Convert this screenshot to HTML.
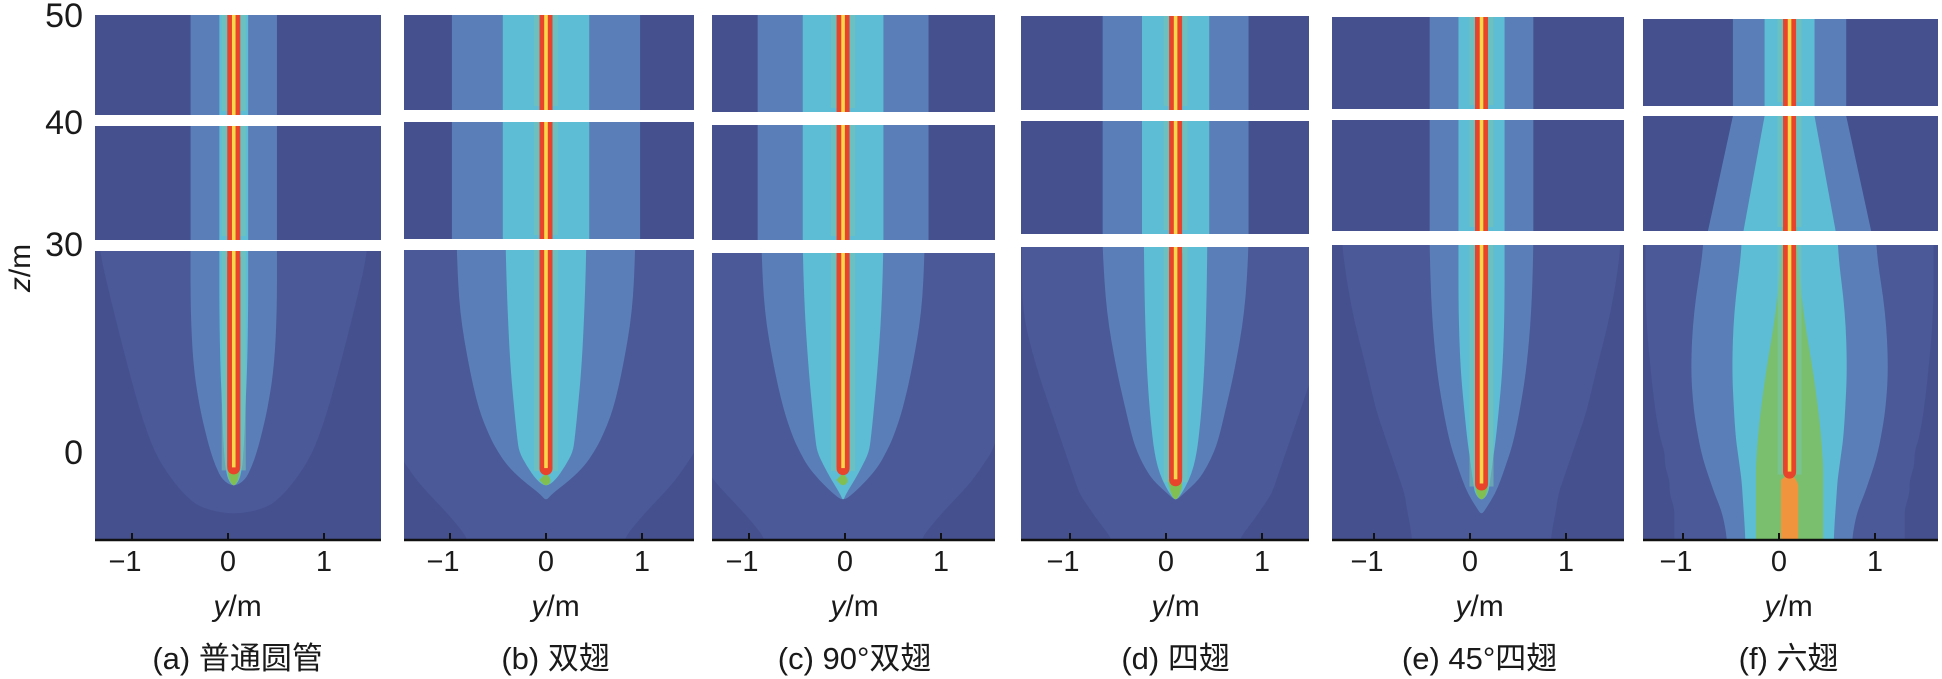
<!DOCTYPE html>
<html><head><meta charset="utf-8">
<style>
html,body{margin:0;padding:0;background:#fff;}
svg{display:block;}
text{font-family:"Liberation Sans","Noto Sans CJK SC",sans-serif;fill:#1a1a1a;}
</style></head>
<body>
<svg id="chart" width="1942" height="679" viewBox="0 0 1942 679" xmlns="http://www.w3.org/2000/svg">
<g id="yaxis"></g>
<g id="panels"></g>
</svg>
<script>
// ---- data ----
const panelLabels = ["(a) 普通圆管","(b) 双翅","(c) 90°双翅","(d) 四翅","(e) 45°四翅","(f) 六翅"];
const xTicks = [-1, 0, 1];
const xTickLabels = ["\u22121","0","1"];
const zTickLabels = ["50","40","30","0"];
const zRows = [28.7, 20, 12, 6, 2, 0, -2, -4, -6, -8, -10, -12.6];
const plumeCenter = [0.06, 0.0, -0.02, 0.1, 0.12, 0.11];
const upperLight = [0.45, 0.98, 0.89, 0.76, 0.54, 0.59];
const upperCyan  = [0.15, 0.45, 0.42, 0.35, 0.24, 0.26];
const midLightBottom = [0.45, 0.98, 0.89, 0.76, 0.54, 0.85];
const midCyanBottom  = [0.15, 0.45, 0.42, 0.35, 0.24, 0.48];
const midGreenBottom = [0, 0, 0, 0, 0, 0.08];
const haloW = [
 [1.4,1.25,1.1,0.98,0.88,0.82,0.74,0.64,0.52,0.35,0,0],
 [1.7,1.7,1.7,1.65,1.6,1.55,1.45,1.35,1.22,1.08,0.95,0.8],
 [1.7,1.7,1.7,1.65,1.6,1.55,1.45,1.35,1.22,1.08,0.95,0.8],
 [1.6,1.6,1.45,1.3,1.2,1.15,1.1,1.05,1.0,0.9,0.8,0.65],
 [1.45,1.35,1.2,1.1,1.0,0.95,0.9,0.85,0.8,0.78,0.75,0.72],
 [1.5,1.5,1.45,1.4,1.35,1.3,1.3,1.25,1.25,1.2,1.2,1.2]];
const lightW = [
 [0.45,0.45,0.42,0.35,0.28,0.24,0.19,0.12,0,0,0,0],
 [0.93,0.9,0.8,0.7,0.58,0.5,0.4,0.25,0.06,0,0,0],
 [0.85,0.82,0.72,0.62,0.52,0.45,0.37,0.25,0.1,0,0,0],
 [0.76,0.72,0.62,0.52,0.45,0.4,0.33,0.24,0.08,0,0,0],
 [0.54,0.52,0.47,0.4,0.34,0.3,0.25,0.2,0.14,0.05,0,0],
 [0.9,1.0,1.03,1.0,0.95,0.92,0.88,0.83,0.78,0.72,0.68,0.65]];
const cyanW = [
 [0.15,0.15,0.14,0.12,0.11,0.1,0.09,0.06,0,0,0,0],
 [0.42,0.4,0.37,0.33,0.3,0.28,0.2,0.1,0,0,0,0],
 [0.42,0.4,0.36,0.32,0.29,0.27,0.2,0.12,0.03,0,0,0],
 [0.33,0.32,0.3,0.27,0.24,0.22,0.19,0.14,0.06,0,0,0],
 [0.24,0.24,0.22,0.18,0.15,0.13,0.11,0.09,0.07,0,0,0],
 [0.5,0.58,0.6,0.58,0.56,0.54,0.52,0.5,0.49,0.48,0.47,0.46]];
const greenW = [
 [0,0,0,0,0,0,0.07,0.05,0,0,0,0],
 [0,0,0,0,0,0,0,0.07,0,0,0,0],
 [0,0,0,0,0,0,0,0.07,0,0,0,0],
 [0,0,0,0,0,0,0,0.08,0.05,0,0,0],
 [0,0,0,0,0,0,0,0.07,0.06,0,0,0],
 [0.08,0.14,0.24,0.3,0.33,0.34,0.35,0.35,0.35,0.35,0.35,0.35]];
const orangeW = [
 [0,0,0,0,0,0,0,0,0,0,0,0],
 [0,0,0,0,0,0,0,0,0,0,0,0],
 [0,0,0,0,0,0,0,0,0,0,0,0],
 [0,0,0,0,0,0,0,0,0,0,0,0],
 [0,0,0,0,0,0,0,0,0,0,0,0],
 [0,0,0,0,0,0,0,0.09,0.09,0.09,0.09,0.09]];
const redTipZ = [-3.2, -3.3, -3.3, -4.9, -5.5, -3.8];

// ---- layout (pixels, not data) ----
const L = [
 {x0:95,  x1:381,  zero:228,  seg:[[15,115],[126,240],[251,540]]},
 {x0:404, x1:694,  zero:546,  seg:[[15,110],[122,239],[250,540]]},
 {x0:712, x1:995,  zero:845,  seg:[[15,112],[125,240],[253,540]]},
 {x0:1021,x1:1309, zero:1166, seg:[[16,110],[121,234],[247,540]]},
 {x0:1332,x1:1624, zero:1470, seg:[[17,109],[120,231],[245,540]]},
 {x0:1643,x1:1938, zero:1779, seg:[[19,106],[116,231],[245,540]]}];
const PPM = 96, Z0PX = 452, ZPPM = 7;
const zTickY = [15, 122, 244, 452];
const C = {bg:"#45508f", halo:"#4b5999", light:"#5a7fb8", cyan:"#5dbdd5", glow:"#79c4ae",
           green:"#82bf52", red:"#e8432b", yellow:"#f6d84a", orange:"#f0953e"};

const NS = "http://www.w3.org/2000/svg";
function mk(tag, attrs, parent){ const e=document.createElementNS(NS,tag); for(const k in attrs) e.setAttribute(k,attrs[k]); parent.appendChild(e); return e; }
const xs = (p,m) => L[p].zero + m*PPM;
const zs = z => Z0PX - z*ZPPM;

const yax = document.getElementById('yaxis');
zTickLabels.forEach((t,i)=>{
  const e = mk('text',{x:83,y:zTickY[i]+12,'text-anchor':'end','font-size':34},yax);
  
  
  e.textContent=t;
});
const zt = mk('text',{x:0,y:0,'font-size':30,'text-anchor':'middle',transform:'translate(30,268) rotate(-90)'},yax);


zt.innerHTML='<tspan font-style="italic">z</tspan>/m';

const root = document.getElementById('panels');
function contour(p, arr, color, g, name, op){
  const c = plumeCenter[p];
  let idx=[]; arr.forEach((w,i)=>{ if(w>0) idx.push(i); });
  if(!idx.length) return;
  const first=idx[0], last=idx[idx.length-1];
  const pts=[];
  const topZ = first>0 ? (zRows[first]+zRows[first-1])/2 : zRows[0]+3;
  if(first>0) pts.push([xs(p,c), zs(topZ)]); else pts.push([xs(p,c+arr[0]), zs(topZ)]);
  for(let i=first;i<=last;i++) pts.push([xs(p,c+arr[i]), zs(zRows[i])]);
  const botZ = last<zRows.length-1 ? (zRows[last]+zRows[last+1])/2 : zRows[last]-3;
  if(last<zRows.length-1) pts.push([xs(p,c), zs(botZ)]);
  else { pts.push([xs(p,c+arr[last]), zs(botZ)]); pts.push([xs(p,c-arr[last]), zs(botZ)]); }
  for(let i=last;i>=first;i--) pts.push([xs(p,c-arr[i]), zs(zRows[i])]);
  if(first===0) pts.push([xs(p,c-arr[0]), zs(topZ)]);
  let d=`M${pts[0][0]},${pts[0][1]}`;
  for(let i=1;i<pts.length-1;i++){
    const mx=(pts[i][0]+pts[i+1][0])/2, my=(pts[i][1]+pts[i+1][1])/2;
    d+=` Q${pts[i][0]},${pts[i][1]} ${mx},${my}`;
  }
  d+=` L${pts[pts.length-1][0]},${pts[pts.length-1][1]} Z`;
  const e=mk('path',{d:d,fill:color,opacity:op||1},g);
  
  
}
function band(p, half, color, y0, y1, g, name, halfBottom, op){
  const c=plumeCenter[p];
  const hb = halfBottom===undefined?half:halfBottom;
  const e=mk('path',{d:`M${xs(p,c-half)},${y0} L${xs(p,c+half)},${y0} L${xs(p,c+hb)},${y1} L${xs(p,c-hb)},${y1} Z`,fill:color,opacity:op||1},g);
  
  
}
function core(p, y0, y1, g, rounded){
  const c=xs(p,plumeCenter[p]);
  const r=mk('rect',{x:c-6.5,y:y0,width:13,height:y1-y0,rx:rounded?6.5:0,fill:C.red},g);
  
  
  if(rounded){ mk('rect',{x:c-6.5,y:y0,width:13,height:Math.max(0,y1-y0-8),fill:C.red},g); }
  const yl=mk('rect',{x:c-1.8,y:y0,width:3.6,height:Math.max(0,y1-y0-(rounded?7:0)),fill:C.yellow},g);
  
  
}

for(let p=0;p<6;p++){
  const l=L[p];
  const g=mk('g',{},root);
  
  
  const [t0,t1]=l.seg[0], [m0,m1]=l.seg[1], [b0,b1]=l.seg[2];
  const cp=mk('clipPath',{id:'clip'+p},g);
  l.seg.forEach(s=>mk('rect',{x:l.x0,y:s[0],width:l.x1-l.x0,height:s[1]-s[0]},cp));
  const cpb=mk('clipPath',{id:'clipb'+p},g);
  mk('rect',{x:l.x0,y:b0,width:l.x1-l.x0,height:b1-b0},cpb);
  const inner=mk('g',{'clip-path':`url(#clip${p})`},g);
  l.seg.forEach(s=>{
    const b=mk('rect',{x:l.x0,y:s[0],width:l.x1-l.x0,height:s[1]-s[0],fill:C.bg},inner);
    
    
  });
  band(p,upperLight[p],C.light,t0,t1,inner,'light-band');
  band(p,upperCyan[p],C.cyan,t0,t1,inner,'cyan-band');
  band(p,upperLight[p],C.light,m0,m1,inner,'light-band',midLightBottom[p]);
  band(p,upperCyan[p],C.cyan,m0,m1,inner,'cyan-band',midCyanBottom[p]);
  if(midGreenBottom[p]>0) band(p,0.0,C.green,(m0+m1)/2,m1,inner,'green-band',midGreenBottom[p],0.6);
  const bg=mk('g',{'clip-path':`url(#clipb${p})`},inner);
  contour(p,haloW[p],C.halo,bg,'halo-contour');
  contour(p,lightW[p],C.light,bg,'light-contour');
  contour(p,cyanW[p],C.cyan,bg,'cyan-contour');
  contour(p,greenW[p],C.green,bg,'green-contour',p===5?0.8:1);
  contour(p,orangeW[p],C.orange,bg,'orange-contour');
  l.seg.forEach((s,si)=>{
    const yEnd = si===2 ? zs(redTipZ[p]) : s[1];
    const gl=mk('rect',{x:xs(p,plumeCenter[p])-12,y:s[0],width:24,height:Math.max(0,yEnd-s[0]-4),fill:C.glow,opacity:0.55},inner);
    
    
    core(p,s[0],yEnd,inner,si===2);
  });
  const ax=mk('line',{x1:l.x0,y1:540,x2:l.x1,y2:540,stroke:'#111','stroke-width':2.5},g);
  
  
  xTicks.forEach((t,i)=>{
    const x=xs(p,t);
    const tk=mk('line',{x1:x,y1:540,x2:x,y2:533,stroke:'#111','stroke-width':2},g);
    
    
    const tl=mk('text',{x:x-(t<0?7:0),y:571,'text-anchor':'middle','font-size':29},g);
    
    
    tl.textContent=xTickLabels[i];
  });
  const xt=mk('text',{x:xs(p,0.1),y:616,'text-anchor':'middle','font-size':30},g);
  
  
  xt.innerHTML='<tspan font-style="italic">y</tspan>/m';
  const cap=mk('text',{x:xs(p,0.1),y:669,'text-anchor':'middle','font-size':31},g);
  
  
  cap.textContent=panelLabels[p];
}
</script>
</body></html>
